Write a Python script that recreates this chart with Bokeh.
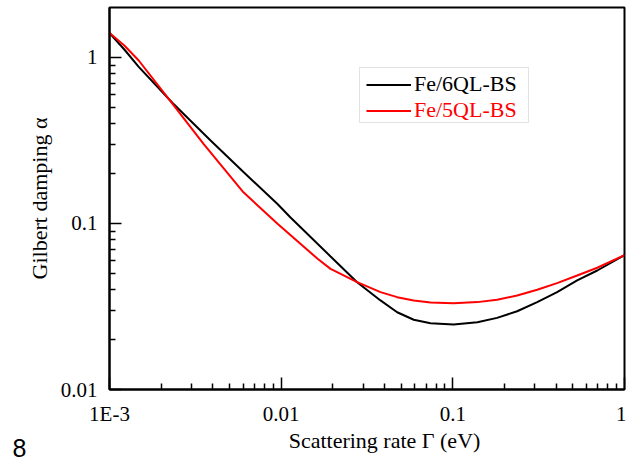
import math

from bokeh.embed import file_html
from bokeh.models import (BoxAnnotation, FixedTicker, Label, Legend, LegendItem,
                          Range1d)
from bokeh.plotting import figure
from bokeh.resources import INLINE

# Gilbert damping versus scattering rate for the two heterostructures
gamma_6ql = [0.001, 0.00122, 0.00148, 0.00233, 0.00388, 0.00603, 0.00952, 0.0113,
             0.0194, 0.0277, 0.0379, 0.0474, 0.0592, 0.0741, 0.101, 0.139, 0.181,
             0.237, 0.310, 0.405, 0.530, 0.694, 1.0]
alpha_6ql = [1.405, 1.117, 0.877, 0.532, 0.316, 0.204, 0.131, 0.109,
             0.0633, 0.0443, 0.0344, 0.0292, 0.0263, 0.0251, 0.0246, 0.0254, 0.0270,
             0.0296, 0.0336, 0.0386, 0.0454, 0.0521, 0.0645]

gamma_5ql = [0.001, 0.00122, 0.00148, 0.00233, 0.00353, 0.00603, 0.00952, 0.0163,
             0.0194, 0.0277, 0.0379, 0.0474, 0.0592, 0.0741, 0.101, 0.139, 0.181,
             0.237, 0.310, 0.405, 0.530, 0.694, 1.0]
alpha_5ql = [1.405, 1.181, 0.959, 0.526, 0.302, 0.154, 0.0996, 0.0613,
             0.0533, 0.0443, 0.0386, 0.0360, 0.0344, 0.0334, 0.0331, 0.0336, 0.0347,
             0.0368, 0.0399, 0.0437, 0.0486, 0.0541, 0.0645]

x_major = [0.001, 0.01, 0.1, 1]
x_labels = ["1E-3", "0.01", "0.1", "1"]
y_major = [0.01, 0.1, 1]
y_labels = ["0.01", "0.1", "1"]

X_MIN, X_MAX = 0.001, 1.0
Y_MIN, Y_MAX = 0.01, 2.0

W, H = 626, 464
LEFT, RIGHT, TOP, BOTTOM = 109, 2, 7, 75
FRAME_W = W - LEFT - RIGHT
FRAME_H = H - TOP - BOTTOM

SERIF = "Liberation Serif"


def sx(px):
    """Canvas x pixel -> data value on the log x scale."""
    lo, hi = math.log10(X_MIN), math.log10(X_MAX)
    return 10 ** (lo + (px - LEFT) / FRAME_W * (hi - lo))


def sy(py):
    """Canvas y pixel (from top) -> data value on the log y scale."""
    lo, hi = math.log10(Y_MIN), math.log10(Y_MAX)
    return 10 ** (lo + (TOP + FRAME_H - py) / FRAME_H * (hi - lo))


p = figure(width=W, height=H, x_axis_type="log", y_axis_type="log",
           x_range=Range1d(X_MIN, X_MAX), y_range=Range1d(Y_MIN, Y_MAX),
           output_backend="svg", toolbar_location=None,
           min_border_left=LEFT, min_border_right=RIGHT,
           min_border_top=TOP, min_border_bottom=BOTTOM)

p.background_fill_color = "white"
p.border_fill_color = "white"
p.outline_line_color = "black"
p.outline_line_width = 2
p.xgrid.visible = False
p.ygrid.visible = False

r6 = p.line(gamma_6ql, alpha_6ql, line_color="black", line_width=2)
r5 = p.line(gamma_5ql, alpha_5ql, line_color="#ff0000", line_width=2)

def minor(decades):
    return [k * 10 ** d for d in decades for k in range(2, 10)]

p.xaxis.ticker = FixedTicker(ticks=x_major, minor_ticks=minor([-3, -2, -1]))
p.yaxis.ticker = FixedTicker(ticks=y_major, minor_ticks=minor([-2, -1]))
p.xaxis.major_label_overrides = dict(zip(x_major, x_labels))
p.yaxis.major_label_overrides = dict(zip(y_major, y_labels))

for ax in (p.xaxis[0], p.yaxis[0]):
    ax.axis_line_width = 2
    ax.axis_line_color = "black"
    ax.major_tick_in = 12
    ax.major_tick_out = 0
    ax.minor_tick_in = 6
    ax.minor_tick_out = 0
    ax.major_tick_line_width = 1.5
    ax.minor_tick_line_width = 1.5
    ax.major_tick_line_color = "black"
    ax.minor_tick_line_color = "black"
    ax.major_label_text_font = SERIF
    ax.major_label_text_font_size = "21px"
    ax.major_label_text_color = "black"
    ax.major_label_standoff = 12
    ax.axis_label_text_font = SERIF
    ax.axis_label_text_font_size = "22px"
    ax.axis_label_text_font_style = "normal"
    ax.axis_label_text_color = "black"

p.yaxis.axis_label = "Gilbert damping \u03b1"
p.yaxis.axis_label_standoff = 6


def side_text(text, px, py, panel, **kw):
    """Text placed in a side panel (so it is not clipped to the frame)."""
    style = dict(text_font=SERIF, text_font_size="22px", text_align="center",
                 text_baseline="middle", text_color="black")
    style.update(kw)
    p.add_layout(Label(x=sx(px), y=sy(py), text=text, **style), panel)


# x-axis title, slightly right of the frame centre
side_text("Scattering rate \u0393 (eV)", 384, 440, "below")
# panel number in the bottom-left corner
side_text("8", 19, 447, "left", text_font="Liberation Sans", text_font_size="25px")

# legend: one entry per colour, framed by a shared box
p.add_layout(BoxAnnotation(left=sx(359), right=sx(528), top=sy(67), bottom=sy(122),
                           fill_alpha=0, line_color="#a0a0a0", line_width=1))

def entry(label, renderer, color, bottom_px):
    leg = Legend(items=[LegendItem(label=label, renderers=[renderer])],
                 location=(366 - LEFT, TOP + FRAME_H - bottom_px),
                 padding=0, margin=0, spacing=0,
                 glyph_width=45, glyph_height=25, label_height=25,
                 label_standoff=3,
                 label_text_font=SERIF, label_text_font_size="22px",
                 label_text_color=color,
                 background_fill_alpha=0, border_line_alpha=0)
    p.add_layout(leg, "center")

entry("Fe/6QL-BS", r6, "black", 97)
entry("Fe/5QL-BS", r5, "#ff0000", 123)

open("out.html", "w").write(file_html(p, INLINE))
